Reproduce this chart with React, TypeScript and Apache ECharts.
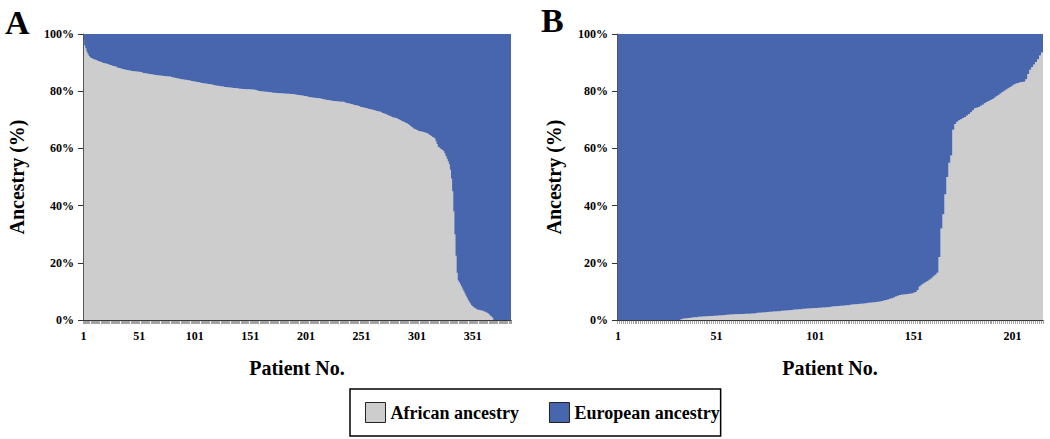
import React, { useEffect, useRef } from "react";
import * as echarts from "echarts";

// Panel A: African ancestry (%) per patient, sorted (385 patients)
const africanA: number[] = [
  98, 96, 95, 93.8, 93, 92.3, 91.8, 91.6, 91.4, 91.2,
  91.1, 91.0, 90.8, 90.6, 90.5, 90.3, 90.2, 90.0, 89.9, 89.8,
  89.7, 89.6, 89.5, 89.3, 89.2, 89.1, 88.9, 88.8, 88.7, 88.6,
  88.4, 88.2, 88.1, 88.0, 87.9, 87.8, 87.7, 87.6, 87.5, 87.4,
  87.3, 87.2, 87.2, 87.1, 87.1, 87.0, 87.0, 86.9, 86.9, 86.8,
  86.8, 86.7, 86.6, 86.5, 86.4, 86.3, 86.3, 86.2, 86.1, 86.0,
  86.0, 85.9, 85.8, 85.8, 85.7, 85.7, 85.6, 85.6, 85.5, 85.5,
  85.4, 85.4, 85.3, 85.3, 85.2, 85.2, 85.1, 85.1, 85.1, 85.0,
  84.9, 84.8, 84.7, 84.6, 84.5, 84.4, 84.4, 84.3, 84.2, 84.2,
  84.1, 84.0, 84.0, 83.9, 83.8, 83.8, 83.7, 83.6, 83.5, 83.5,
  83.4, 83.3, 83.2, 83.2, 83.1, 83.0, 82.9, 82.9, 82.8, 82.7,
  82.7, 82.6, 82.5, 82.5, 82.4, 82.3, 82.3, 82.2, 82.1, 82.0,
  81.9, 81.9, 81.8, 81.7, 81.7, 81.6, 81.6, 81.5, 81.5, 81.4,
  81.4, 81.3, 81.3, 81.2, 81.2, 81.1, 81.1, 81.0, 81.0, 81.0,
  80.9, 80.9, 80.9, 80.8, 80.8, 80.8, 80.7, 80.7, 80.7, 80.7,
  80.6, 80.6, 80.6, 80.6, 80.5, 80.4, 80.3, 80.2, 80.1, 80.0,
  80.0, 79.9, 79.9, 79.8, 79.8, 79.8, 79.7, 79.7, 79.6, 79.6,
  79.5, 79.5, 79.5, 79.4, 79.4, 79.4, 79.3, 79.3, 79.3, 79.2,
  79.2, 79.2, 79.1, 79.1, 79.1, 79.1, 79.0, 79.0, 79.0, 79.0,
  78.9, 78.8, 78.8, 78.7, 78.7, 78.6, 78.5, 78.5, 78.4, 78.3,
  78.2, 78.2, 78.1, 78.0, 77.9, 77.9, 77.8, 77.7, 77.7, 77.6,
  77.6, 77.5, 77.5, 77.5, 77.4, 77.3, 77.2, 77.1, 77.0, 76.9,
  76.9, 76.8, 76.8, 76.7, 76.7, 76.6, 76.6, 76.5, 76.5, 76.4,
  76.4, 76.3, 76.3, 76.3, 76.3, 76.1, 76.0, 75.9, 75.8, 75.7,
  75.6, 75.5, 75.4, 75.3, 75.2, 75.1, 75.0, 74.9, 74.8, 74.6,
  74.5, 74.4, 74.3, 74.2, 74.1, 74.0, 73.9, 73.8, 73.7, 73.6,
  73.5, 73.4, 73.3, 73.2, 73.1, 73.0, 72.9, 72.8, 72.6, 72.4,
  72.3, 72.1, 72.0, 71.8, 71.6, 71.4, 71.3, 71.1, 70.9, 70.8,
  70.7, 70.6, 70.5, 70.3, 70.1, 69.9, 69.7, 69.5, 69.3, 69.1,
  68.9, 68.8, 68.5, 68.2, 67.9, 67.6, 67.3, 67.0, 66.8, 66.6,
  66.4, 66.2, 66.1, 66.0, 65.9, 65.8, 65.7, 65.6, 65.5, 65.3,
  65.1, 64.8, 64.6, 64.3, 64.0, 63.8, 63.5, 62.5, 61.5, 60.6,
  60.3, 60.0, 59.7, 59.4, 59.0, 58.2, 57.3, 56.4, 55.5, 54.5,
  52.5, 49.5, 45.0, 38.0, 30.0, 22.5, 16.5, 13.8, 13.2, 12.5,
  11.7, 10.9, 10.1, 9.3, 8.5, 7.8, 7.0, 6.4, 5.8, 5.2,
  4.8, 4.5, 4.2, 3.9, 3.7, 3.6, 3.5, 3.4, 3.3, 3.2,
  3.1, 2.9, 2.7, 2.5, 2.3, 1.9, 1.5, 1.2, 0.8, 0,
  0, 0, 0, 0, 0, 0, 0, 0, 0, 0,
  0, 0, 0, 0, 0,
];

// Panel B: African ancestry (%) per patient, sorted (216 patients)
const africanB: number[] = [
  0, 0, 0, 0, 0, 0, 0, 0, 0, 0,
  0, 0, 0, 0, 0, 0, 0, 0, 0, 0,
  0, 0, 0, 0, 0, 0, 0, 0, 0, 0,
  0, 0, 0.2, 0.4, 0.5, 0.6, 0.7, 0.8, 0.9, 1.0,
  1.0, 1.1, 1.1, 1.2, 1.2, 1.3, 1.3, 1.4, 1.4, 1.5,
  1.5, 1.6, 1.6, 1.7, 1.7, 1.8, 1.8, 1.9, 1.9, 2.0,
  2.0, 2.0, 2.1, 2.1, 2.1, 2.2, 2.2, 2.2, 2.3, 2.3,
  2.4, 2.5, 2.5, 2.6, 2.6, 2.7, 2.8, 2.9, 2.9, 3.0,
  3.0, 3.1, 3.1, 3.2, 3.2, 3.3, 3.3, 3.4, 3.5, 3.6,
  3.7, 3.7, 3.8, 3.8, 3.9, 3.9, 4.0, 4.0, 4.1, 4.1,
  4.2, 4.2, 4.3, 4.3, 4.4, 4.4, 4.5, 4.5, 4.6, 4.7,
  4.8, 4.8, 4.9, 5.0, 5.0, 5.1, 5.2, 5.2, 5.3, 5.4,
  5.5, 5.5, 5.6, 5.7, 5.7, 5.8, 5.9, 6.0, 6.0, 6.1,
  6.2, 6.3, 6.4, 6.5, 6.6, 6.8, 7.0, 7.2, 7.4, 7.6,
  7.9, 8.2, 8.5, 8.7, 8.8, 8.9, 9.0, 9.1, 9.2, 9.3,
  9.5, 9.8, 10.5, 11.7, 12.3, 12.8, 13.2, 13.6, 14.1, 14.6,
  15.2, 15.8, 16.5, 22.0, 32.0, 37.0, 44.0, 50.0, 55.0, 57.5,
  66.5, 68.5, 69.3, 69.8, 70.2, 70.6, 71.0, 71.5, 72.0, 72.6,
  73.3, 74.0, 74.2, 74.5, 74.9, 75.3, 75.8, 76.2, 76.6, 76.9,
  77.3, 77.7, 78.2, 78.7, 79.2, 79.7, 80.2, 80.6, 81.0, 81.5,
  81.9, 82.3, 82.7, 82.9, 83.1, 83.2, 83.3, 84.2, 86.0, 87.5,
  88.5, 89.3, 90.2, 91.2, 92.5, 93.5,
];

const europeanA = africanA.map((v) => +(100 - v).toFixed(1));
const europeanB = africanB.map((v) => +(100 - v).toFixed(1));

const patientsA = africanA.map((_, i) => String(i + 1));
const patientsB = africanB.map((_, i) => String(i + 1));

const yTicks = [0, 20, 40, 60, 80, 100];
const seriesNames = ["African ancestry", "European ancestry"];
const GRAY = "#CDCDCD";
const BLUE = "#4866AE";
const FONT = "'Liberation Serif', 'Times New Roman', serif";

export default function App() {
  const ref = useRef<HTMLDivElement>(null);
  useEffect(() => {
    if (!ref.current) return;
    const chart = echarts.init(ref.current, undefined, { renderer: "svg" });
    const xAxisCommon = (cats: string[]) => ({
      type: "category" as const,
      data: cats,
      name: "Patient No.",
      nameLocation: "middle" as const,
      nameGap: 38,
      nameTextStyle: { fontFamily: FONT, fontWeight: "bold", fontSize: 20, color: "#000" },
      axisLine: { lineStyle: { color: "#333", width: 1 } },
      axisTick: { show: true, interval: 0, length: 4, lineStyle: { color: "#444", width: 0.5 } },
      axisLabel: {
        interval: (index: number) => index % 50 === 0,
        margin: 10,
        fontFamily: FONT,
        fontWeight: "bold",
        fontSize: 12,
        color: "#000",
      },
      z: 5,
    });
    const yAxisCommon = (gap: number) => ({
      type: "value" as const,
      min: yTicks[0],
      max: yTicks[yTicks.length - 1],
      interval: 20,
      name: "Ancestry (%)",
      nameLocation: "middle" as const,
      nameGap: gap,
      nameTextStyle: { fontFamily: FONT, fontWeight: "bold", fontSize: 20, color: "#000" },
      axisLine: { show: true, lineStyle: { color: "#555", width: 1 } },
      axisTick: { show: true, length: 5, lineStyle: { color: "#333" } },
      splitLine: { show: false },
      axisLabel: {
        formatter: "{value}%",
        margin: 9,
        fontFamily: FONT,
        fontWeight: "bold",
        fontSize: 12,
        color: "#000",
      },
      z: 5,
    });
    const barSeries = (name: string, data: number[], idx: number, color: string) => ({
      name,
      type: "bar" as const,
      stack: "s" + idx,
      xAxisIndex: idx,
      yAxisIndex: idx,
      data,
      barCategoryGap: "0%",
      barGap: "0%",
      large: true,
      largeThreshold: 10,
      itemStyle: { color },
      emphasis: { disabled: true },
    });
    chart.setOption({
      animation: false,
      grid: [
        { left: 83, top: 34, width: 428, height: 286 },
        { left: 617, top: 34, width: 426, height: 286 },
      ],
      xAxis: [
        { ...xAxisCommon(patientsA), gridIndex: 0 },
        { ...xAxisCommon(patientsB), gridIndex: 1 },
      ],
      yAxis: [
        { ...yAxisCommon(56), gridIndex: 0 },
        { ...yAxisCommon(53), gridIndex: 1 },
      ],
      legend: {
        data: seriesNames,
        left: 350,
        top: 389,
        orient: "horizontal",
        padding: [13, 1, 13, 15],
        itemGap: 30,
        itemWidth: 20,
        itemHeight: 20,
        itemStyle: { borderColor: "#222", borderWidth: 1 },
        borderColor: "#000",
        borderWidth: 1.5,
        selectedMode: false,
        textStyle: { fontFamily: FONT, fontWeight: "bold", fontSize: 18, color: "#000" },
        icon: "rect",
      },
      graphic: [
        {
          type: "text",
          left: 5,
          top: 5,
          style: { text: "A", fontFamily: FONT, fontWeight: "bold", fontSize: 34, fill: "#000" },
        },
        {
          type: "text",
          left: 541,
          top: 3,
          style: { text: "B", fontFamily: FONT, fontWeight: "bold", fontSize: 34, fill: "#000" },
        },
      ],
      series: [
        barSeries(seriesNames[0], africanA, 0, GRAY),
        barSeries(seriesNames[1], europeanA, 0, BLUE),
        barSeries(seriesNames[0], africanB, 1, GRAY),
        barSeries(seriesNames[1], europeanB, 1, BLUE),
      ],
    });
    return () => chart.dispose();
  }, []);
  return (
    <div
      ref={ref}
      style={{ position: "fixed", left: 0, top: 0, width: 1050, height: 439, background: "#fff" }}
    />
  );
}
